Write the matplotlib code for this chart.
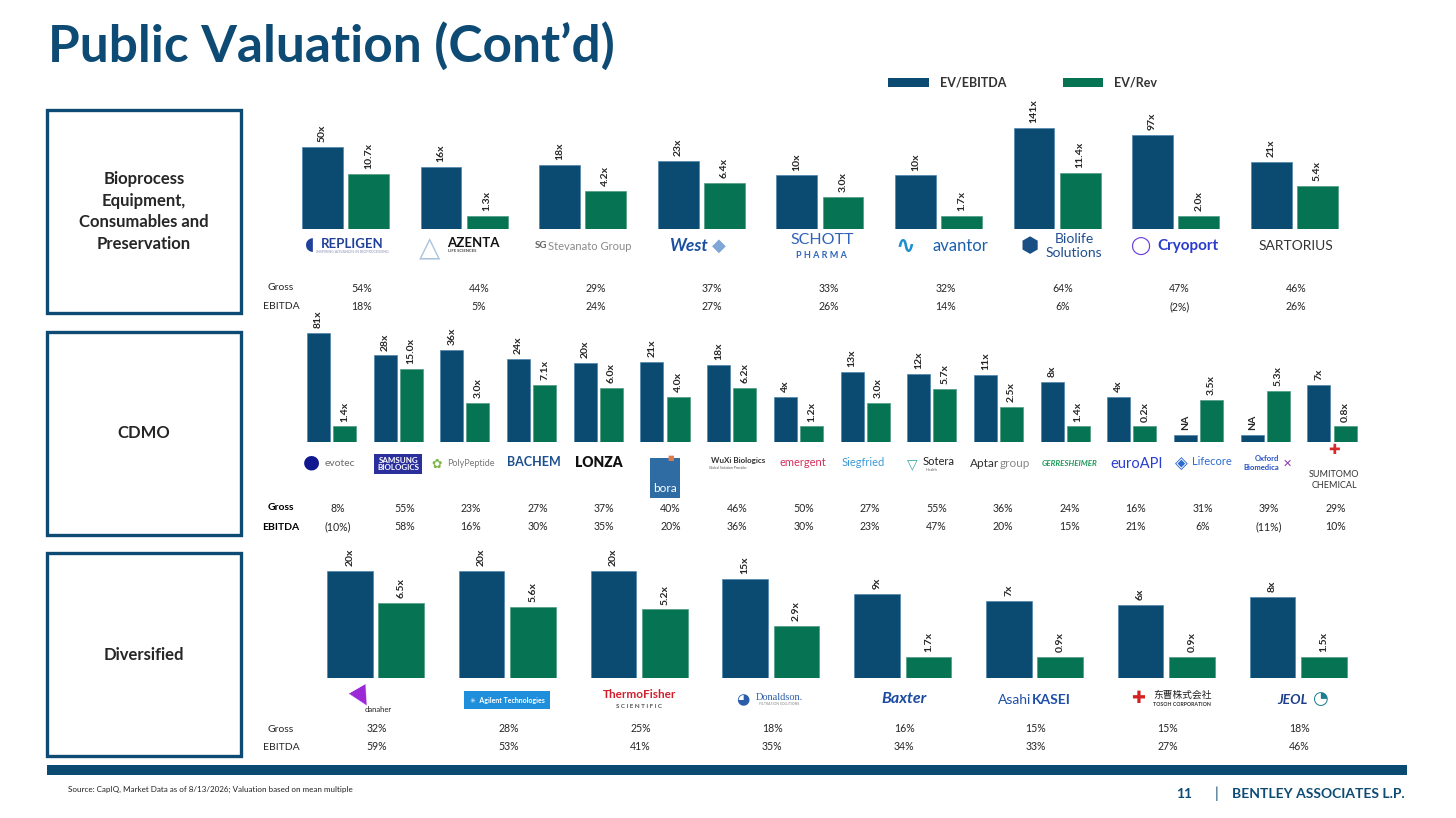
import numpy as np
import matplotlib
matplotlib.use("Agg")
import matplotlib.pyplot as plt
import matplotlib.transforms as mtransforms
from matplotlib import font_manager as fm
from matplotlib.patches import Rectangle

# ---------------- data ----------------
bio_companies = ["Repligen", "Azenta", "Stevanato Group", "West", "Schott Pharma",
                 "Avantor", "BioLife Solutions", "Cryoport", "Sartorius"]
bio_ev_ebitda = [50, 16, 18, 23, 10, 10, 141, 97, 21]
bio_ev_rev = [10.7, 1.3, 4.2, 6.4, 3.0, 1.7, 11.4, 2.0, 5.4]
bio_gross = ["54%", "44%", "29%", "37%", "33%", "32%", "64%", "47%", "46%"]
bio_ebitda = ["18%", "5%", "24%", "27%", "26%", "14%", "6%", "(2%)", "26%"]

cdmo_companies = ["Evotec", "Samsung Biologics", "PolyPeptide", "Bachem", "Lonza", "Bora",
                  "WuXi Biologics", "Emergent", "Siegfried", "Sotera Health", "AptarGroup",
                  "Gerresheimer", "EuroAPI", "Lifecore", "Oxford Biomedica", "Sumitomo Chemical"]
cdmo_ev_ebitda = [81, 28, 36, 24, 20, 21, 18, 4, 13, 12, 11, 8, 4, None, None, 7]
cdmo_ev_rev = [1.4, 15.0, 3.0, 7.1, 6.0, 4.0, 6.2, 1.2, 3.0, 5.7, 2.5, 1.4, 0.2, 3.5, 5.3, 0.8]
cdmo_gross = ["8%", "55%", "23%", "27%", "37%", "40%", "46%", "50%", "27%", "55%", "36%",
              "24%", "16%", "31%", "39%", "29%"]
cdmo_ebitda = ["(10%)", "58%", "16%", "30%", "35%", "20%", "36%", "30%", "23%", "47%", "20%",
               "15%", "21%", "6%", "(11%)", "10%"]

div_companies = ["Danaher", "Agilent", "Thermo Fisher", "Donaldson", "Baxter",
                 "Asahi Kasei", "Tosoh", "JEOL"]
div_ev_ebitda = [20, 20, 20, 15, 9, 7, 6, 8]
div_ev_rev = [6.5, 5.6, 5.2, 2.9, 1.7, 0.9, 0.9, 1.5]
div_gross = ["32%", "28%", "25%", "18%", "16%", "15%", "15%", "18%"]
div_ebitda = ["59%", "53%", "41%", "35%", "34%", "33%", "27%", "46%"]

# ---------------- display rules / styles ----------------
BASE = 0.48          # log-axis floor
FLOOR_LIMIT = 2.0    # small multiples are drawn at the 1.0x floor
FLOOR_VALUE = 1.0
NA_STUB = 0.68       # stub height for NA

BLUE = "#0B4A71"
GREEN = "#067453"
NAVY = "#0E4B74"
TXT = "#262626"
SANS = ["Lato", "DejaVu Sans"]
DJ = ["DejaVu Sans"]
CJK = ["Noto Sans CJK SC", "DejaVu Sans"]
SERIF = ["Liberation Serif", "DejaVu Serif"]


def has_font(name):
    try:
        p = fm.findfont(fm.FontProperties(family=name, weight="bold"), fallback_to_default=False)
        return "narrow" in p.lower()
    except Exception:
        return False


if has_font("Liberation Sans Narrow"):
    TITLE_FAMILY, TITLE_SIZE = ["Liberation Sans Narrow", "DejaVu Sans"], 41
else:
    TITLE_FAMILY, TITLE_SIZE = SANS, 37


def display_heights(vals):
    out = []
    for v in vals:
        if v is None:
            out.append(NA_STUB)
        elif v <= FLOOR_LIMIT:
            out.append(FLOOR_VALUE)
        else:
            out.append(v)
    return out


W, H = 1456, 818
fig = plt.figure(figsize=(W / 100, H / 100), dpi=100)
fig.patch.set_facecolor("white")


def X(px):
    return px / W


def Y(py):
    return 1 - py / H


def blend(ax):
    return mtransforms.blended_transform_factory(ax.transData, fig.transFigure)


def put(ax, i, ypx, s, dx=0, dy=0, **kw):
    tr = mtransforms.offset_copy(blend(ax), fig=fig, x=dx, y=-dy, units="dots")
    kw.setdefault("ha", "center")
    kw.setdefault("va", "center")
    kw.setdefault("family", SANS)
    ax.text(i, Y(ypx), s, transform=tr, clip_on=False, **kw)


# ---------------- logos (as text) ----------------
LOGOS = {
    "Repligen": [("REPLIGEN", 7, -2, dict(color="#21409a", weight="bold", size=9.5)),
                 ("INSPIRING ADVANCES IN BIOPROCESSING", 7, 6, dict(color="#8a93b8", size=2.6)),
                 ("◖", -36, -1, dict(color="#21409a", size=13, family=DJ))],
    "Azenta": [("AZENTA", 9, -3, dict(color="#111", weight="bold", size=9.5)),
               ("LIFE SCIENCES", -2, 5, dict(color="#444", weight="bold", size=3)),
               ("△", -34, 2, dict(color="#a9c3df", size=20, family=DJ))],
    "Stevanato Group": [("Stevanato Group", 7, 0, dict(color="#8a8a8a", size=8)),
                        ("SG", -42, 0, dict(color="#666", size=7, weight="bold"))],
    "West": [("West", -13, 0, dict(color="#1b4fa0", size=12.5, weight="bold", style="italic")),
             ("◆", 18, 0, dict(color="#7fa6d6", size=13, family=DJ))],
    "Schott Pharma": [("SCHOTT", 2, -6, dict(color="#2d63b8", size=11.5)),
                      ("P H A R M A", 2, 9, dict(color="#2d63b8", size=6.5, weight="bold"))],
    "Avantor": [("avantor", 22, 0, dict(color="#1b5fab", size=12)),
                ("∿", -33, 0, dict(color="#1b8fd0", size=17, family=DJ, weight="bold"))],
    "BioLife Solutions": [("Biolife", 17, -7, dict(color="#1e4f8f", size=10)),
                          ("Solutions", 17, 7, dict(color="#1e4f8f", size=10)),
                          ("⬢", -27, 0, dict(color="#1a4f86", size=15, family=DJ))],
    "Cryoport": [("Cryoport", 12, 0, dict(color="#2b3ccc", size=11, weight="bold")),
                 ("◯", -36, 0, dict(color="#6a3ce0", size=13, family=DJ, weight="bold"))],
    "Sartorius": [("SARTORIUS", 2, 0, dict(color="#333", size=10))],

    "Evotec": [("evotec", 8, 0, dict(color="#6b6b6b", size=7.5)),
               ("●", -20, -2, dict(color="#10178f", size=14, family=DJ))],
    "Samsung Biologics": [("SAMSUNG\nBIOLOGICS", 0, 0, dict(color="white", weight="bold", size=5.8,
                                                           linespacing=1.05, ha="center",
                                                           bbox=dict(facecolor="#2b2f9c", edgecolor="none",
                                                                     boxstyle="square,pad=0.35")))],
    "PolyPeptide": [("PolyPeptide", 6, 0, dict(color="#777", size=6.5)),
                    ("✿", -28, 0, dict(color="#7ab648", size=9, family=DJ))],
    "Bachem": [("BACHEM", 2, -2, dict(color="#1d4f91", weight="bold", size=9))],
    "Lonza": [("LONZA", 1, -1, dict(color="#111", weight="heavy", size=10))],
    "Bora": [("\n\nbora", 0, 14, dict(color="white", size=8.5, linespacing=1.0,
                                       bbox=dict(facecolor="#2f6ca3", edgecolor="none",
                                                 boxstyle="square,pad=0.3"))),
             ("■", 6, -6, dict(color="#e07a4a", size=5, family=DJ))],
    "WuXi Biologics": [("WuXi Biologics", 6, -3, dict(color="#333", weight="bold", size=5.8)),
                       ("Global Solution Provider", -4, 4, dict(color="#555", size=2.5))],
    "Emergent": [("emergent", 4, -1, dict(color="#d52f5b", size=8))],
    "Siegfried": [("Siegfried", -2, -1, dict(color="#3b99d8", size=8))],
    "Sotera Health": [("Sotera", 7, -2, dict(color="#222", size=8)),
                      ("Health", 0, 6, dict(color="#666", size=3)),
                      ("▽", -20, 0, dict(color="#3aa6a6", size=10, family=DJ))],
    "AptarGroup": [("Aptar", 1, 0, dict(color="#333", size=8.5, ha="right")),
                   ("group", 1, 0, dict(color="#888", size=8.5, ha="left"))],
    "Gerresheimer": [("GERRESHEIMER", 4, 0, dict(color="#1f9a5c", weight="bold", style="italic", size=5.8))],
    "EuroAPI": [("euroAPI", 5, 0, dict(color="#2a3fd0", size=10.5))],
    "Lifecore": [("Lifecore", 13, -2, dict(color="#2d6bd1", size=8)),
                 ("◈", -17, 0, dict(color="#2d6bd1", size=12, family=DJ))],
    "Oxford Biomedica": [("Oxford", 2, -5, dict(color="#2450c8", weight="bold", size=5.5)),
                         ("Biomedica", -4, 4, dict(color="#2450c8", weight="bold", size=5.5)),
                         ("✕", 22, 0, dict(color="#8e3ab4", size=8, family=DJ))],
    "Sumitomo Chemical": [("✚", 2, -14, dict(color="#d42a2a", size=10, family=DJ)),
                          ("SUMITOMO", 2, 11, dict(color="#333", size=6.5)),
                          ("CHEMICAL", 2, 22, dict(color="#333", size=6.5))],

    "Danaher": [("danaher", 3, 9, dict(color="#222", size=5.5)),
                ("▶", -14, -4, dict(color="#9b27d6", size=18, family=DJ, rotation=-60))],
    "Agilent": [("✳  Agilent Technologies", 0, 0, dict(color="white", weight="bold", size=5,
                                                      bbox=dict(facecolor="#1f8fdc", edgecolor="none",
                                                                boxstyle="square,pad=0.8")))],
    "Thermo Fisher": [("ThermoFisher", 0, -5, dict(color="#d11f2e", weight="bold", size=8.5)),
                      ("S C I E N T I F I C", 0, 6, dict(color="#555", weight="bold", size=4.5))],
    "Donaldson": [("Donaldson.", 8, -3, dict(color="#2b5da8", size=7.5, family=SERIF)),
                  ("FILTRATION SOLUTIONS", 8, 4, dict(color="#888", size=2.5)),
                  ("◕", -28, 0, dict(color="#2b5da8", size=11, family=DJ))],
    "Baxter": [("Baxter", 1, -1, dict(color="#1c4ba0", weight="bold", style="italic", size=11.5))],
    "Asahi Kasei": [("Asahi", -3, 0, dict(color="#1f4fa8", size=10, ha="right")),
                    ("KASEI", -3, 0, dict(color="#1f4fa8", size=10, weight="bold", ha="left"))],
    "Tosoh": [("东曹株式会社", 16, -5, dict(color="#222", size=7, family=CJK)),
              ("TOSOH CORPORATION", 16, 5, dict(color="#333", weight="bold", size=3.8)),
              ("✚", -28, -2, dict(color="#d42020", size=12, family=DJ))],
    "JEOL": [("JEOL", -6, 0, dict(color="#1d3e8a", weight="bold", style="italic", size=10)),
             ("◔", 22, -1, dict(color="#1c7f8f", size=13, family=DJ))],
}

# ---------------- rows ----------------
rows = [
    dict(names=bio_companies, ebitda=bio_ev_ebitda, rev=bio_ev_rev, gross=bio_gross, margin=bio_ebitda,
         rect=(286.2, 95, 1353.6, 229.3), decade_px=40.9, logo_y=246,
         pct_x=(362, 116.75), pct_y=(288, 307), head_bold=False),
    dict(names=cdmo_companies, ebitda=cdmo_ev_ebitda, rev=cdmo_ev_rev, gross=cdmo_gross, margin=cdmo_ebitda,
         rect=(298.15, 320, 1365.35, 442), decade_px=49.0, logo_y=464,
         pct_x=(338, 66.5), pct_y=(508, 527), head_bold=True),
    dict(names=div_companies, ebitda=div_ev_ebitda, rev=div_ev_rev, gross=div_gross, margin=div_ebitda,
         rect=(309.6, 550, 1364, 677.7), decade_px=66.0, logo_y=700,
         pct_x=(377, 131.8), pct_y=(729, 747), head_bold=False),
]

BAR_W = 0.345
OFF = 0.195

for row in rows:
    l, t, r, b = row["rect"]
    ax = fig.add_axes([X(l), Y(b), (r - l) / W, (b - t) / H])
    ax.set_yscale("log")
    n = len(row["names"])
    x = np.arange(n)
    ax.set_xlim(-0.5, n - 0.5)
    ax.set_ylim(BASE, BASE * 10 ** ((b - t) / row["decade_px"]))
    ax.axis("off")
    h1 = display_heights(row["ebitda"])
    h2 = display_heights(row["rev"])
    ax.bar(x - OFF, h1, BAR_W, color=BLUE, edgecolor="#4f86ad", linewidth=0.5,
           label="EV/EBITDA")
    ax.bar(x + OFF, h2, BAR_W, color=GREEN, edgecolor="#4f9c80", linewidth=0.5,
           label="EV/Rev")
    for xi, v, hv in zip(x, row["ebitda"], h1):
        s = "NA" if v is None else f"{v:.0f}x"
        ax.annotate(s, (xi - OFF, hv), xytext=(0, 3.5), textcoords="offset points",
                    rotation=90, ha="center", va="bottom", fontsize=7.5,
                    fontweight="bold", color=TXT, family=SANS, annotation_clip=False)
    for xi, v, hv in zip(x, row["rev"], h2):
        ax.annotate(f"{v:.1f}x", (xi + OFF, hv), xytext=(0, 3.5), textcoords="offset points",
                    rotation=90, ha="center", va="bottom", fontsize=7.5,
                    fontweight="bold", color=TXT, family=SANS, annotation_clip=False)
    # logos
    for i, name in enumerate(row["names"]):
        for s, dx, dy, kw in LOGOS[name]:
            put(ax, i, row["logo_y"], s, dx, dy, **dict(kw))
    # margin table
    gy, ey = row["pct_y"]
    hw = "bold" if row["head_bold"] else "normal"
    hc = "#000" if row["head_bold"] else TXT
    fig.text(X(281), Y(gy), "Gross", ha="center", va="center", fontsize=7.5,
             fontweight=hw, color=hc, family=SANS)
    fig.text(X(281), Y(ey), "EBITDA", ha="center", va="center", fontsize=7.5,
             fontweight=hw, color=hc, family=SANS)
    x0, dx = row["pct_x"]
    for i, (g, m) in enumerate(zip(row["gross"], row["margin"])):
        fig.text(X(x0 + dx * i), Y(gy), g, ha="center", va="center", fontsize=7.6,
                 color=TXT, family=SANS)
        fig.text(X(x0 + dx * i), Y(ey), m, ha="center", va="center", fontsize=7.6,
                 color=TXT, family=SANS)

# ---------------- title, legend, boxes, footer ----------------
fig.text(X(48), Y(62), "Public Valuation (Cont\u2019d)", ha="left", va="baseline",
         fontsize=TITLE_SIZE, fontweight="bold", color=NAVY, family=TITLE_FAMILY)

for (x0, x1, col, lab) in [(888, 929, BLUE, "EV/EBITDA"), (1063, 1103, GREEN, "EV/Rev")]:
    fig.add_artist(Rectangle((X(x0), Y(86.5)), (x1 - x0) / W, 8.5 / H,
                             transform=fig.transFigure, facecolor=col, edgecolor="none"))
    fig.text(X(x1 + 11), Y(82.5), lab, ha="left", va="center", fontsize=9,
             fontweight="bold", color="#333", family=SANS)

boxes = [(110, 313, "Bioprocess\nEquipment,\nConsumables and\nPreservation"),
         (332, 535, "CDMO"), (553, 756, "Diversified")]
for top, bot, lab in boxes:
    fig.add_artist(Rectangle((X(47), Y(bot)), (241 - 47) / W, (bot - top) / H,
                             transform=fig.transFigure, fill=False, edgecolor=NAVY,
                             linewidth=2.4))
    fig.text(X(144), Y((top + bot) / 2), lab, ha="center", va="center", fontsize=12,
             fontweight="bold", color=TXT, family=SANS, linespacing=1.42)

fig.add_artist(Rectangle((X(47), Y(775)), (1407 - 47) / W, 10 / H,
                         transform=fig.transFigure, facecolor=BLUE, edgecolor="none"))
fig.text(X(68), Y(789), "Source: CapIQ, Market Data as of 8/13/2026; Valuation based on mean multiple",
         ha="left", va="center", fontsize=5.8, color="#222", family=SANS)
fig.text(X(1184), Y(794), "11", ha="center", va="center", fontsize=10, fontweight="bold",
         color=NAVY, family=SANS)
fig.text(X(1217), Y(794), "|", ha="center", va="center", fontsize=11, color=NAVY, family=SANS)
fig.text(X(1232), Y(794), "BENTLEY ASSOCIATES L.P.", ha="left", va="center", fontsize=10,
         fontweight="bold", color=NAVY, family=SANS)

fig.savefig("out.png", dpi=100, facecolor="white")
